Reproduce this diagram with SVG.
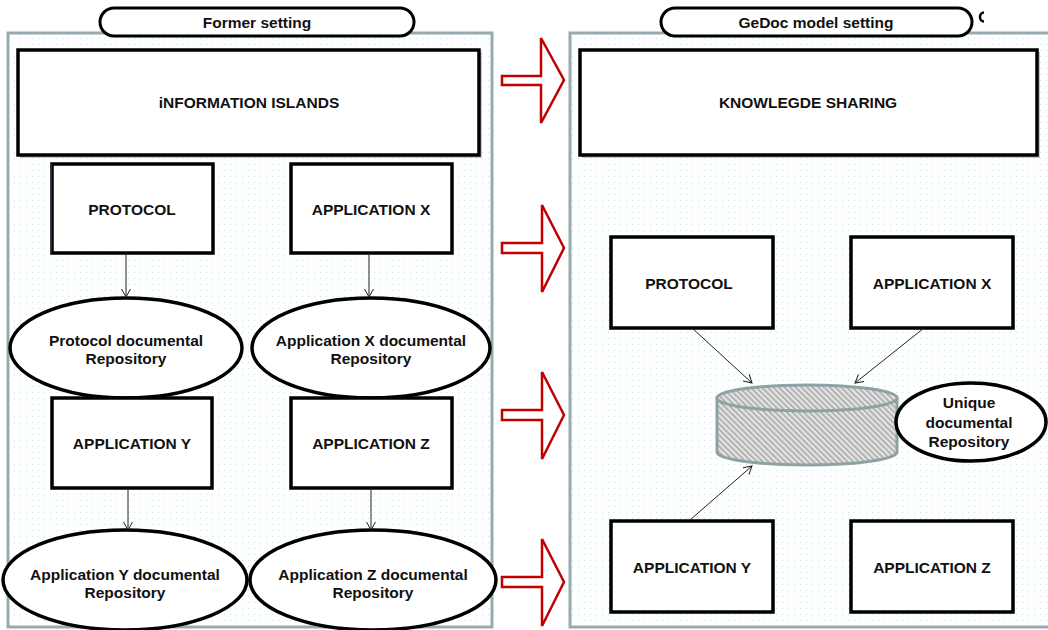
<svg xmlns="http://www.w3.org/2000/svg" width="1048" height="630" viewBox="0 0 1048 630">
<defs>
<style>
.panel{stroke:#97aaae;stroke-width:3;fill:url(#dots)}
.pill{fill:#fff;stroke:#000;stroke-width:3}
.box{fill:#fff;stroke:#000;stroke-width:3.5}
.shadow{fill:#c8c8c8;stroke:none}
.ell{fill:#fff;stroke:#000;stroke-width:3.5}
.t{font-family:"Liberation Sans",Arial,Helvetica,sans-serif;font-weight:bold;font-size:15.5px;fill:#111;text-anchor:middle}
.conn{stroke:#222;stroke-width:1;fill:none}
.red{fill:#fff;stroke:#c00000;stroke-width:2.5;stroke-linejoin:miter}
</style>
<pattern id="dots" width="6" height="6" patternUnits="userSpaceOnUse">
<rect width="6" height="6" fill="#fff"/>
<rect x="2" y="2" width="1" height="1" fill="#c9e0e0"/>
</pattern>
<pattern id="hatch" width="4" height="4" patternUnits="userSpaceOnUse" patternTransform="rotate(-45)">
<rect width="4" height="4" fill="#e4e4e4"/>
<rect width="1.6" height="4" fill="#a9a9a9"/>
</pattern>
<marker id="arr" markerWidth="12" markerHeight="12" refX="9" refY="5" orient="auto" markerUnits="userSpaceOnUse">
<path d="M1,0.5 L9,5 L1,9.5" fill="none" stroke="#222" stroke-width="1"/>
</marker>
</defs>

<g id="panel-former">
<rect class="panel" x="8" y="33" width="484" height="594"/>
</g>
<g id="panel-gedoc">
<rect class="panel" x="570" y="33" width="480" height="594"/>
</g>

<g id="title-former">
<rect class="pill" x="100" y="8" width="314" height="28" rx="14"/>
<text class="t" x="257" y="28">Former setting</text>
</g>
<g id="title-gedoc">
<path d="M984,12.5 A4,4.5 0 0 0 984,21.5" fill="none" stroke="#000" stroke-width="2.5"/>
<rect class="pill" x="661" y="8" width="311" height="28" rx="14"/>
<text class="t" x="816" y="28">GeDoc model setting</text>
</g>

<g id="info-islands">
<rect class="shadow" x="20" y="52" width="462" height="106"/>
<rect class="box" x="18" y="50" width="461" height="105"/>
<text class="t" x="249" y="107.5">iNFORMATION ISLANDS</text>
</g>
<g id="knowledge-sharing">
<rect class="shadow" x="582" y="52" width="458" height="106"/>
<rect class="box" x="580" y="50" width="457" height="105"/>
<text class="t" x="808" y="107.5">KNOWLEGDE SHARING</text>
</g>

<g id="l-protocol">
<rect class="box" x="52" y="164" width="161" height="89"/>
<line x1="51" y1="164" x2="51" y2="253" stroke="#334" stroke-width="2"/>
<text class="t" x="132" y="214.5">PROTOCOL</text>
</g>
<g id="l-appx">
<rect class="box" x="291" y="164" width="161" height="89"/>
<text class="t" x="371" y="214.5">APPLICATION X</text>
</g>
<g id="l-protocol-repo">
<ellipse class="ell" cx="126" cy="348" rx="116" ry="50"/>
<text class="t" x="126" y="345.5">Protocol documental</text>
<text class="t" x="126" y="364">Repository</text>
</g>
<g id="l-appx-repo">
<ellipse class="ell" cx="371" cy="348" rx="119" ry="50"/>
<text class="t" x="371" y="345.5">Application X documental</text>
<text class="t" x="371" y="364">Repository</text>
</g>
<g id="l-appy">
<rect class="box" x="52" y="398" width="160" height="90"/>
<text class="t" x="132" y="448.5">APPLICATION Y</text>
</g>
<g id="l-appz">
<rect class="box" x="291" y="398" width="161" height="90"/>
<text class="t" x="371" y="448.5">APPLICATION Z</text>
</g>
<g id="l-appy-repo">
<ellipse class="ell" cx="125" cy="580" rx="122" ry="50"/>
<text class="t" x="125" y="580">Application Y documental</text>
<text class="t" x="125" y="598">Repository</text>
</g>
<g id="l-appz-repo">
<ellipse class="ell" cx="373" cy="580" rx="123" ry="50"/>
<text class="t" x="373" y="580">Application Z documental</text>
<text class="t" x="373" y="598">Repository</text>
</g>

<g id="r-protocol">
<rect class="box" x="611" y="237" width="162" height="91"/>
<text class="t" x="689" y="288.5">PROTOCOL</text>
</g>
<g id="r-appx">
<rect class="box" x="851" y="237" width="162" height="91"/>
<text class="t" x="932" y="288.5">APPLICATION X</text>
</g>
<g id="r-cylinder">
<path d="M717,398 L717,452 A90,13 0 0 0 897,452 L897,398 Z" fill="url(#hatch)" stroke="#8ea2a6" stroke-width="3"/>
<ellipse cx="807" cy="398" rx="90" ry="13" fill="url(#hatch)" stroke="#8ea2a6" stroke-width="3"/>
</g>
<g id="r-unique">
<ellipse class="ell" cx="971" cy="422" rx="75" ry="39"/>
<text class="t" x="969" y="408">Unique</text>
<text class="t" x="969" y="428">documental</text>
<text class="t" x="969" y="447">Repository</text>
</g>
<g id="r-appy">
<rect class="box" x="611" y="521" width="162" height="91"/>
<text class="t" x="692" y="572.5">APPLICATION Y</text>
</g>
<g id="r-appz">
<rect class="box" x="851" y="521" width="162" height="91"/>
<text class="t" x="932" y="572.5">APPLICATION Z</text>
</g>

<g id="connectors">
<line class="conn" x1="126" y1="253" x2="126" y2="297" marker-end="url(#arr)"/>
<line class="conn" x1="369" y1="253" x2="369" y2="297" marker-end="url(#arr)"/>
<line class="conn" x1="128" y1="488" x2="128" y2="530" marker-end="url(#arr)"/>
<line class="conn" x1="371" y1="488" x2="371" y2="530" marker-end="url(#arr)"/>
<line class="conn" x1="692" y1="328" x2="752" y2="383" marker-end="url(#arr)"/>
<line class="conn" x1="924" y1="328" x2="855" y2="383" marker-end="url(#arr)"/>
<line class="conn" x1="690" y1="520" x2="752" y2="466" marker-end="url(#arr)"/>
</g>

<g id="red-arrows">
<path class="red" d="M502,76 L541,76 L541,38 L564,80 L541,123 L541,85 L502,85 Z"/>
<path class="red" d="M502,243 L542,243 L542,205 L564,248 L542,292 L542,253 L502,253 Z"/>
<path class="red" d="M502,410 L542,410 L542,372 L564,415 L542,459 L542,420 L502,420 Z"/>
<path class="red" d="M502,577 L542,577 L542,539 L564,582 L542,626 L542,587 L502,587 Z"/>
</g>
</svg>
